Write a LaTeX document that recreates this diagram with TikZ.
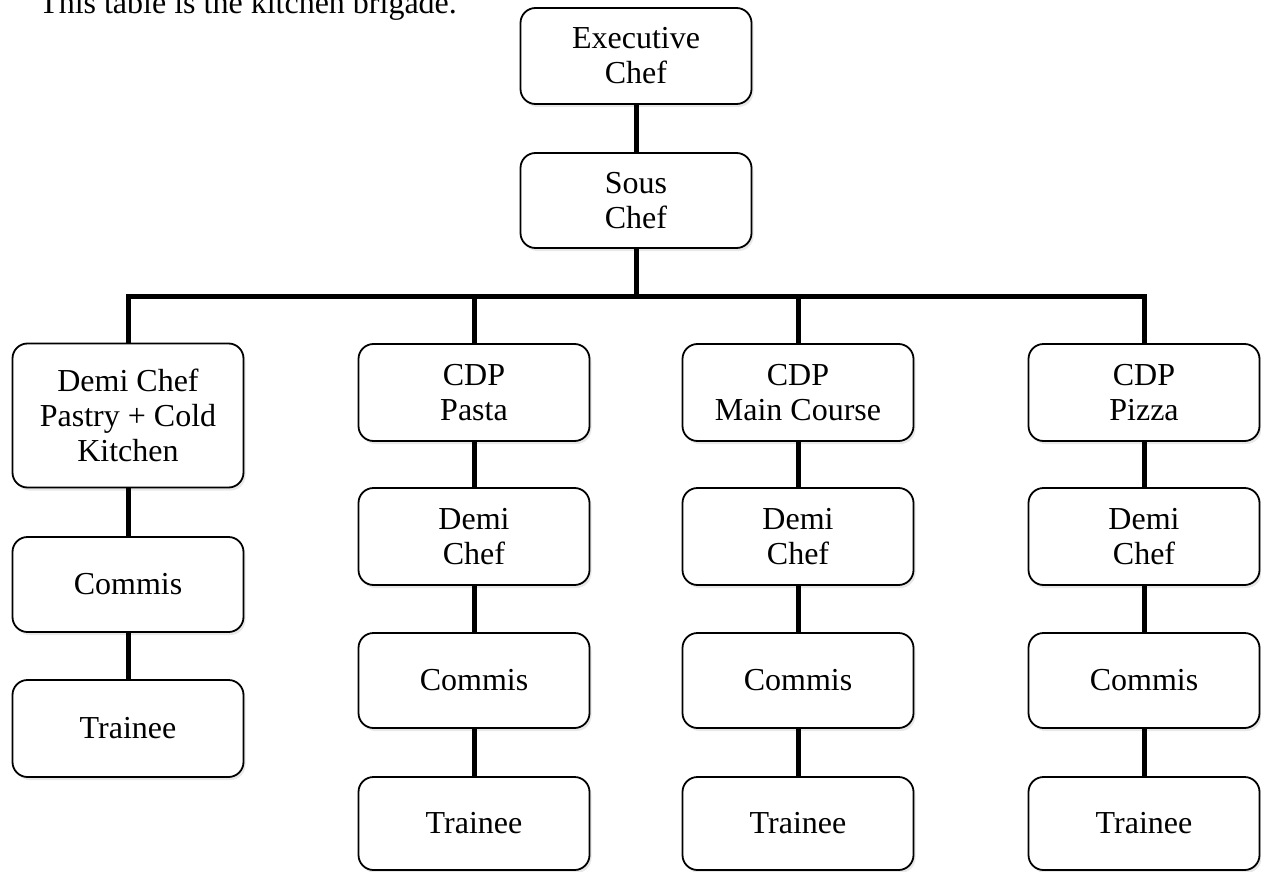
\documentclass[tikz,border=0pt]{standalone}
\usepackage{fontspec}
\setmainfont{Liberation Serif}
\usetikzlibrary{shadows}
\tikzset{
  box/.style={draw=black, line width=1.8pt, rounded corners=15pt, fill=white,
    align=center, inner sep=0pt, minimum width=231pt,
    font=\fontsize{32}{35}\selectfont,
    drop shadow={shadow xshift=2pt, shadow yshift=-3pt, opacity=0.18}},
  conn/.style={draw=black, line width=5pt, line join=miter},
  caption/.style={anchor=base west, inner sep=0pt, font=\fontsize{32}{35}\selectfont}
}
\begin{document}
\begin{tikzpicture}[x=1pt,y=-1pt]
\useasboundingbox (0,0) rectangle (1261,872);
\clip (0,0) rectangle (1261,872);
\node[caption] (title) at (39,13.6) {This table is the kitchen brigade.};
% top
\node[box, minimum height=96pt] (exec) at (636,56) {Executive\\Chef};
\node[box, minimum height=95pt] (sous) at (636,200.5) {Sous\\Chef};
% row 1
\node[box, minimum height=144pt] (pastry) at (128,415.5) {Demi Chef\\Pastry + Cold\\Kitchen};
\node[box, minimum height=97pt] (pasta) at (474,392.5) {CDP\\Pasta};
\node[box, minimum height=97pt] (main) at (798,392.5) {CDP\\Main Course};
\node[box, minimum height=97pt] (pizza) at (1144,392.5) {CDP\\Pizza};
% column 1
\node[box, minimum height=95pt] (commisA) at (128,584.5) {Commis};
\node[box, minimum height=97pt] (traineeA) at (128,728.5) {Trainee};
% column 2
\node[box, minimum height=97pt] (demiB) at (474,536.5) {Demi\\Chef};
\node[box, minimum height=95pt] (commisB) at (474,680.5) {Commis};
\node[box, minimum height=93pt] (traineeB) at (474,823.5) {Trainee};
% column 3
\node[box, minimum height=97pt] (demiC) at (798,536.5) {Demi\\Chef};
\node[box, minimum height=95pt] (commisC) at (798,680.5) {Commis};
\node[box, minimum height=93pt] (traineeC) at (798,823.5) {Trainee};
% column 4
\node[box, minimum height=97pt] (demiD) at (1144,536.5) {Demi\\Chef};
\node[box, minimum height=95pt] (commisD) at (1144,680.5) {Commis};
\node[box, minimum height=93pt] (traineeD) at (1144,823.5) {Trainee};
% connectors
\coordinate (bar) at (636,296.5);
\draw[conn] (exec.south) -- (sous.north);
\draw[conn] (sous.south) -- (bar);
\draw[conn] (pastry.north) |- (bar) -| (pizza.north);
\draw[conn] (pasta.north) -- (pasta.north |- bar);
\draw[conn] (main.north) -- (main.north |- bar);
\draw[conn] (pastry.south) -- (commisA.north);
\draw[conn] (commisA.south) -- (traineeA.north);
\draw[conn] (pasta.south) -- (demiB.north);
\draw[conn] (demiB.south) -- (commisB.north);
\draw[conn] (commisB.south) -- (traineeB.north);
\draw[conn] (main.south) -- (demiC.north);
\draw[conn] (demiC.south) -- (commisC.north);
\draw[conn] (commisC.south) -- (traineeC.north);
\draw[conn] (pizza.south) -- (demiD.north);
\draw[conn] (demiD.south) -- (commisD.north);
\draw[conn] (commisD.south) -- (traineeD.north);
\end{tikzpicture}
\end{document}
